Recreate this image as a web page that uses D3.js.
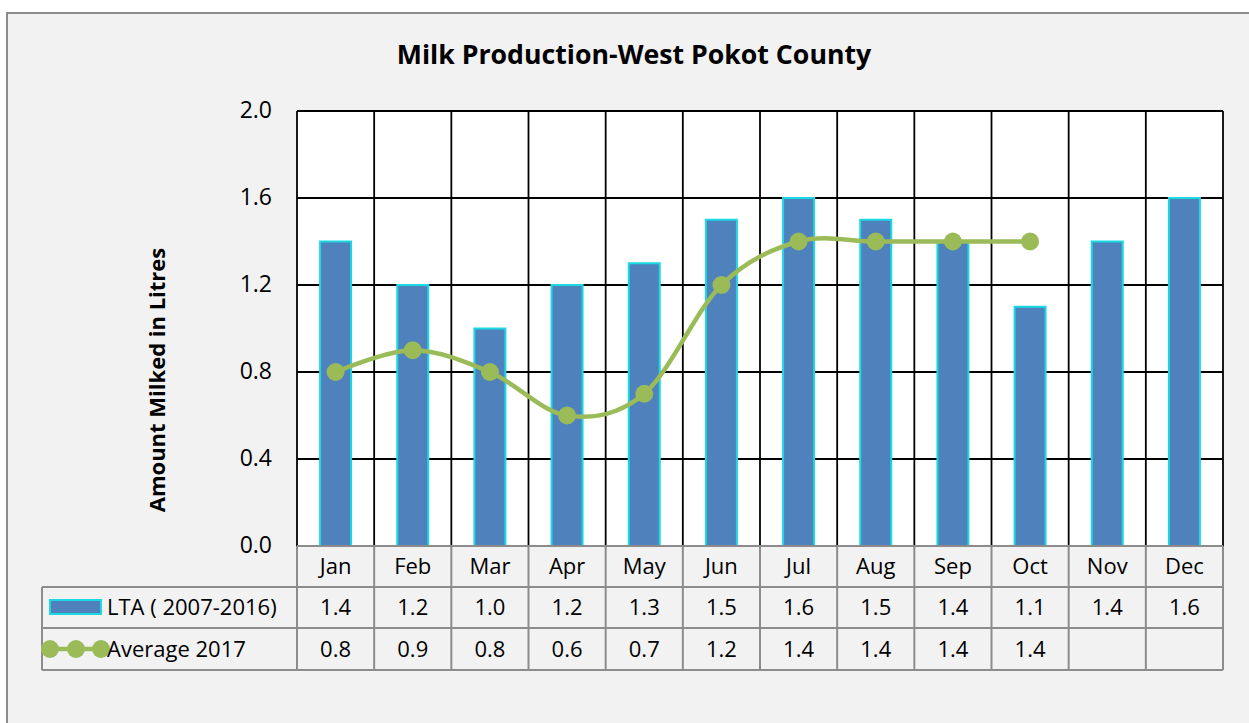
<!DOCTYPE html>
<html><head><meta charset="utf-8">
<script src="https://cdn.jsdelivr.net/npm/d3@7/dist/d3.min.js"></script>
<style>body{margin:0;background:#fff;}svg{display:block;font-family:"Open Sans",Lato,sans-serif;}</style>
</head><body><svg id="c" width="1249" height="723"></svg>
<script>
const categories = ["Jan","Feb","Mar","Apr","May","Jun","Jul","Aug","Sep","Oct","Nov","Dec"];
const ltaValues = [1.4,1.2,1.0,1.2,1.3,1.5,1.6,1.5,1.4,1.1,1.4,1.6];
const avg2017Values = [0.8,0.9,0.8,0.6,0.7,1.2,1.4,1.4,1.4,1.4,null,null];
const yTicks = [0,0.4,0.8,1.2,1.6,2.0];
const seriesNames = ["LTA ( 2007-2016)","Average 2017"];
const title = "Milk Production-West Pokot County";
const yLabel = "Amount Milked in Litres";

const FONT = "'Open Sans',Lato,sans-serif";
const svg = d3.select("#c");
svg.append("rect").attr("x",7).attr("y",13).attr("width",1260).attr("height",730)
  .attr("fill","#f2f2f2").attr("stroke","#8c8c8c").attr("stroke-width",2);

const L=297,R=1223,T=111,B=546;
const x = d3.scaleBand().domain(categories).range([L,R]);
const y = d3.scaleLinear().domain([0,2]).range([B,T]);

svg.append("rect").attr("x",L).attr("y",T).attr("width",R-L).attr("height",B-T).attr("fill","#fff");

// gridlines
svg.append("g").selectAll("line").data(yTicks).join("line")
  .attr("x1",L).attr("x2",R).attr("y1",d=>y(d)).attr("y2",d=>y(d))
  .attr("stroke","#000").attr("stroke-width",1.8);
const bounds = categories.map(c=>x(c)).concat([R]);
svg.append("g").selectAll("line").data(bounds).join("line")
  .attr("x1",d=>d).attr("x2",d=>d).attr("y1",T).attr("y2",B)
  .attr("stroke","#000").attr("stroke-width",1.8);

// y axis tick labels
const yAxis = d3.axisLeft(y).tickValues(yTicks).tickFormat(d3.format(".1f")).tickSize(0).tickPadding(0);
const ga = svg.append("g").attr("transform",`translate(${L-25},0)`).call(yAxis);
ga.select(".domain").remove();
ga.selectAll("text").attr("font-size",23).attr("fill","#000").attr("font-family",FONT).attr("dy","0.3em");

// bars
const bw = 31;
svg.append("g").selectAll("rect").data(ltaValues).join("rect")
  .attr("x",(d,i)=>x(categories[i])+x.bandwidth()/2-bw/2)
  .attr("width",bw)
  .attr("y",d=>y(d))
  .attr("height",d=>B-y(d))
  .attr("fill","#4f81bd").attr("stroke","#1ad9e3").attr("stroke-width",2);

// line
const pts = avg2017Values.map((v,i)=>({c:categories[i],v})).filter(d=>d.v!=null);
const line = d3.line().x(d=>x(d.c)+x.bandwidth()/2).y(d=>y(d.v)).curve(d3.curveCardinal.tension(0));
svg.append("path").datum(pts).attr("d",line).attr("fill","none").attr("stroke","#9bbb59").attr("stroke-width",4.5);
svg.append("g").selectAll("circle").data(pts).join("circle")
  .attr("cx",d=>x(d.c)+x.bandwidth()/2).attr("cy",d=>y(d.v)).attr("r",9).attr("fill","#9bbb59");

// title
svg.append("text").attr("x",634).attr("y",64).attr("text-anchor","middle")
  .attr("font-size",26.7).attr("font-weight","bold").text(title);
// y label
svg.append("text").attr("transform","translate(165,380) rotate(-90)").attr("text-anchor","middle")
  .attr("font-size",22).attr("font-weight","bold").text(yLabel);

// data table
const tL=42, r0=546, r1=587, r2=628, r3=670;
const tg = svg.append("g").attr("stroke","#8c8c8c").attr("stroke-width",2);
tg.append("line").attr("x1",L).attr("x2",R).attr("y1",r0).attr("y2",r0);
[r1,r2,r3].forEach(yy=>tg.append("line").attr("x1",tL).attr("x2",R).attr("y1",yy).attr("y2",yy));
bounds.forEach(bx=>tg.append("line").attr("x1",bx).attr("x2",bx).attr("y1",r0).attr("y2",r3));
tg.append("line").attr("x1",tL).attr("x2",tL).attr("y1",r1).attr("y2",r3);

const fs = 22;
const cx = c=>x(c)+x.bandwidth()/2;
svg.append("g").selectAll("text").data(categories).join("text")
  .attr("x",cx).attr("y",(r0+r1)/2+7.5).attr("text-anchor","middle").attr("font-size",fs).text(d=>d);
svg.append("g").selectAll("text").data(ltaValues).join("text")
  .attr("x",(d,i)=>cx(categories[i])).attr("y",(r1+r2)/2+7.5).attr("text-anchor","middle").attr("font-size",fs)
  .text(d=>d3.format(".1f")(d));
svg.append("g").selectAll("text").data(avg2017Values).join("text")
  .attr("x",(d,i)=>cx(categories[i])).attr("y",(r2+r3)/2+7.5).attr("text-anchor","middle").attr("font-size",fs)
  .text(d=>d==null?"":d3.format(".1f")(d));

// legend keys
svg.append("rect").attr("x",50).attr("y",600).attr("width",51).attr("height",14)
  .attr("fill","#4f81bd").attr("stroke","#1ad9e3").attr("stroke-width",2);
svg.append("text").attr("x",107).attr("y",(r1+r2)/2+7.5).attr("font-size",fs).text(seriesNames[0]);
svg.append("line").attr("x1",50).attr("x2",101).attr("y1",649).attr("y2",649).attr("stroke","#9bbb59").attr("stroke-width",4.5);
[50,76,101].forEach(px=>svg.append("circle").attr("cx",px).attr("cy",649).attr("r",9).attr("fill","#9bbb59"));
svg.append("text").attr("x",107).attr("y",(r2+r3)/2+7.5).attr("font-size",fs).text(seriesNames[1]);
</script></body></html>
